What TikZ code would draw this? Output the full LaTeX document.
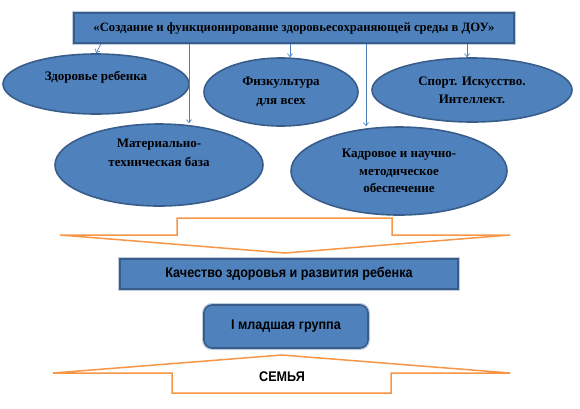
\documentclass[tikz,border=0pt]{standalone}
\usepackage{fontspec}
\setmainfont{Liberation Serif}
\newfontfamily\narrowsans[FakeStretch=0.9]{Liberation Sans}
\usepackage{tikz}
\usetikzlibrary{arrows.meta,positioning,shapes.geometric}
\definecolor{boxblue}{RGB}{79,129,189}
\definecolor{edgeblue}{RGB}{56,93,138}
\definecolor{glowblue}{RGB}{190,204,224}
\definecolor{linkblue}{RGB}{74,126,187}
\definecolor{arroworange}{RGB}{247,150,70}

\begin{document}
\begin{tikzpicture}[x=1pt, y=-1pt,
    bluebox/.style={rectangle, draw=edgeblue, line width=1.6pt, fill=boxblue,
                    preaction={draw=glowblue, line width=4pt}},
    bubble/.style={ellipse, draw=edgeblue, line width=1.6pt, fill=boxblue, inner sep=0pt,
                   align=center, font=\fontsize{13}{19}\selectfont\bfseries},
    conn/.style={draw=linkblue, line width=0.7pt, -{Straight Barb[length=3pt,width=5pt]}},
    blockarrow/.style={draw=arroworange, line width=1.5pt, fill=white, line join=miter},
    sanstext/.style={font=\narrowsans\fontsize{14}{16}\selectfont\bfseries}
]
\useasboundingbox (0,0) rectangle (580,408);

% top title
\node[bluebox, minimum width=440pt, minimum height=30pt,
      font=\fontsize{12.7}{14}\selectfont\bfseries] (title) at (294,28)
  {«Создание и функционирование здоровьесохраняющей среды в ДОУ»};

% five directions
\node[bubble, minimum width=186pt, minimum height=60pt] (health) at (96,84)
  {Здоровье ребенка\\[-9pt] \strut};
\node[bubble, minimum width=154pt, minimum height=68pt] (sport) at (281,92)
  {Физкультура\\для всех};
\node[bubble, minimum width=200pt, minimum height=64pt,
      font=\fontsize{13}{18}\selectfont\bfseries] (arts) at (472,90)
  {Спорт. Искусство.\\Интеллект.};
\node[bubble, minimum width=208pt, minimum height=82pt] (base) at (159,165)
  {Материально-\\техническая база\\ \strut};
\node[bubble, minimum width=216pt, minimum height=88pt,
      font=\fontsize{13}{17.5}\selectfont\bfseries] (staff) at (399,171)
  {Кадровое и научно-\\методическое\\обеспечение};

\draw[conn] (101,0 |- title.south) -- (health.north);
\draw[conn] (189,0 |- title.south) -- (189,0 |- base.north);
\draw[conn] (290,0 |- title.south) -- (290,0 |- sport.north);
\draw[conn] (366,0 |- title.south) -- (366,0 |- staff.north);
\draw[conn] (467,0 |- title.south) -- (467,0 |- arts.north);

% orange arrow down
\draw[blockarrow] (177,218) -- (392,218) -- (392,235) -- (510,235) -- (285,253)
  -- (60,235) -- (177,235) -- cycle;

\node[bluebox, minimum width=338pt, minimum height=30pt, sanstext] (quality) at (289,274)
  {Качество здоровья и развития ребенка};

\node[bluebox, rounded corners=8pt, minimum width=164pt, minimum height=43pt, sanstext]
  (group) at (286,326.5) {I младшая группа};

% orange arrow up
\draw[blockarrow] (282,355) -- (510,373) -- (391,373) -- (391,393) -- (172,393)
  -- (172,373) -- (53,373) -- cycle;
\node[sanstext] (family) at (282,377) {СЕМЬЯ};
\end{tikzpicture}
\end{document}
